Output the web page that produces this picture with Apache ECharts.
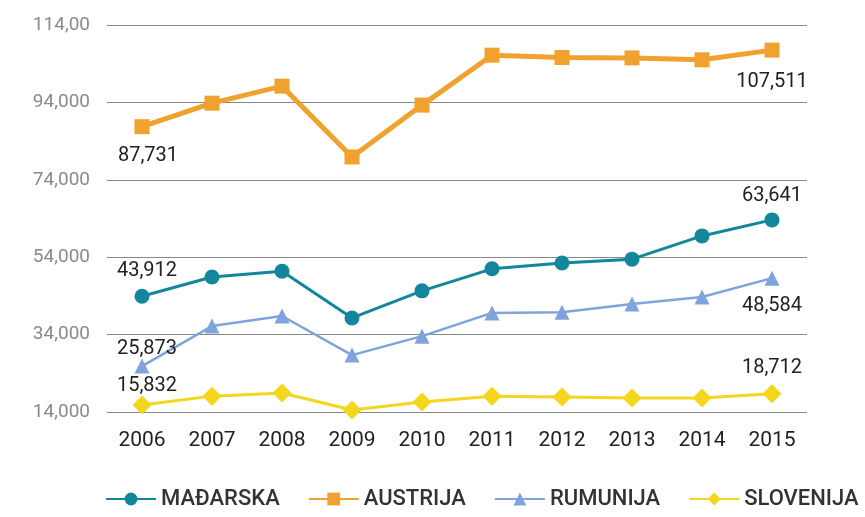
<!DOCTYPE html>
<html><head><meta charset="utf-8">
<script src="https://cdn.jsdelivr.net/npm/echarts@6/dist/echarts.min.js"></script>
<style>html,body{margin:0;padding:0;background:#fff}#c{width:865px;height:517px}</style>
</head><body><div id="c"></div>
<script>
var years = ['2006','2007','2008','2009','2010','2011','2012','2013','2014','2015'];
var yTickLabels = ['14,000','34,000','54,000','74,000','94,000','114,00'];
var madarska = [43912, 48900, 50400, 38300, 45300, 51000, 52500, 53500, 59500, 63641];
var austrija = [87731, 93800, 98200, 79900, 93300, 106200, 105600, 105500, 105000, 107511];
var rumunija = [25873, 36200, 38800, 28700, 33600, 39600, 39800, 41900, 43700, 48584];
var slovenija = [15832, 18100, 18900, 14500, 16600, 18100, 17900, 17600, 17600, 18712];

function fmt(v){ return String(v).replace(/\B(?=(\d{3})+(?!\d))/g, ','); }
var lblBase = {show:true, color:'#222', fontSize:20, fontFamily:'Roboto', formatter:function(p){return fmt(p.value);}};
function withEnds(arr, first, last){
  return arr.map(function(v,i){
    if(i===0) return {value:v, label:Object.assign({}, lblBase, first)};
    if(i===arr.length-1) return {value:v, label:Object.assign({}, lblBase, last)};
    return v;
  });
}
var chart = echarts.init(document.getElementById('c'), null, {renderer:'canvas'});
chart.setOption({
  animation:false,
  grid:{left:107, right:58, top:25, bottom:105},
  legend:{
    bottom:2, left:100, itemWidth:50, itemHeight:16, itemGap:28,
    textStyle:{fontSize:22, color:'#333', fontFamily:'Roboto', fontWeight:500},
    data:['MAĐARSKA','AUSTRIJA','RUMUNIJA','SLOVENIJA']
  },
  xAxis:{type:'category', data:years, boundaryGap:true,
    axisLine:{show:false}, axisTick:{show:false},
    axisLabel:{fontSize:21, color:'#222', fontFamily:'Roboto', margin:18}},
  yAxis:{type:'value', min:14000, max:114000, interval:20000,
    axisLine:{show:false}, axisTick:{show:false},
    splitLine:{lineStyle:{color:'#888', width:1}},
    axisLabel:{fontSize:19, color:'#8a8a8a', fontFamily:'Roboto', margin:17,
      formatter:function(v){ return yTickLabels[Math.round((v-14000)/20000)]; }}},
  series:[
    {name:'MAĐARSKA', type:'line', symbol:'circle', symbolSize:15,
     itemStyle:{color:'#12879c'}, lineStyle:{width:3, color:'#12879c'},
     data:withEnds(madarska, {position:'top', distance:8, offset:[5,0]}, {position:'top', distance:6, offset:[0,0]})},
    {name:'AUSTRIJA', type:'line', symbol:'rect', symbolSize:15,
     itemStyle:{color:'#f0a12e'}, lineStyle:{width:5, color:'#f0a12e'},
     data:withEnds(austrija, {position:'bottom', distance:12, offset:[6,0]}, {position:'bottom', distance:14, offset:[0,0]})},
    {name:'RUMUNIJA', type:'line', symbol:'triangle', symbolSize:15,
     itemStyle:{color:'#7fa3dd'}, lineStyle:{width:2.5, color:'#7fa3dd'},
     data:withEnds(rumunija, {position:'top', distance:0, offset:[5,0]}, {position:'bottom', distance:10, offset:[0,0]})},
    {name:'SLOVENIJA', type:'line', symbol:'diamond', symbolSize:19,
     itemStyle:{color:'#f4d61c'}, lineStyle:{width:3, color:'#f4d61c'},
     data:withEnds(slovenija, {position:'top', distance:-1, offset:[5,0]}, {position:'top', distance:6, offset:[0,0]})}
  ]
});
</script></body></html>
